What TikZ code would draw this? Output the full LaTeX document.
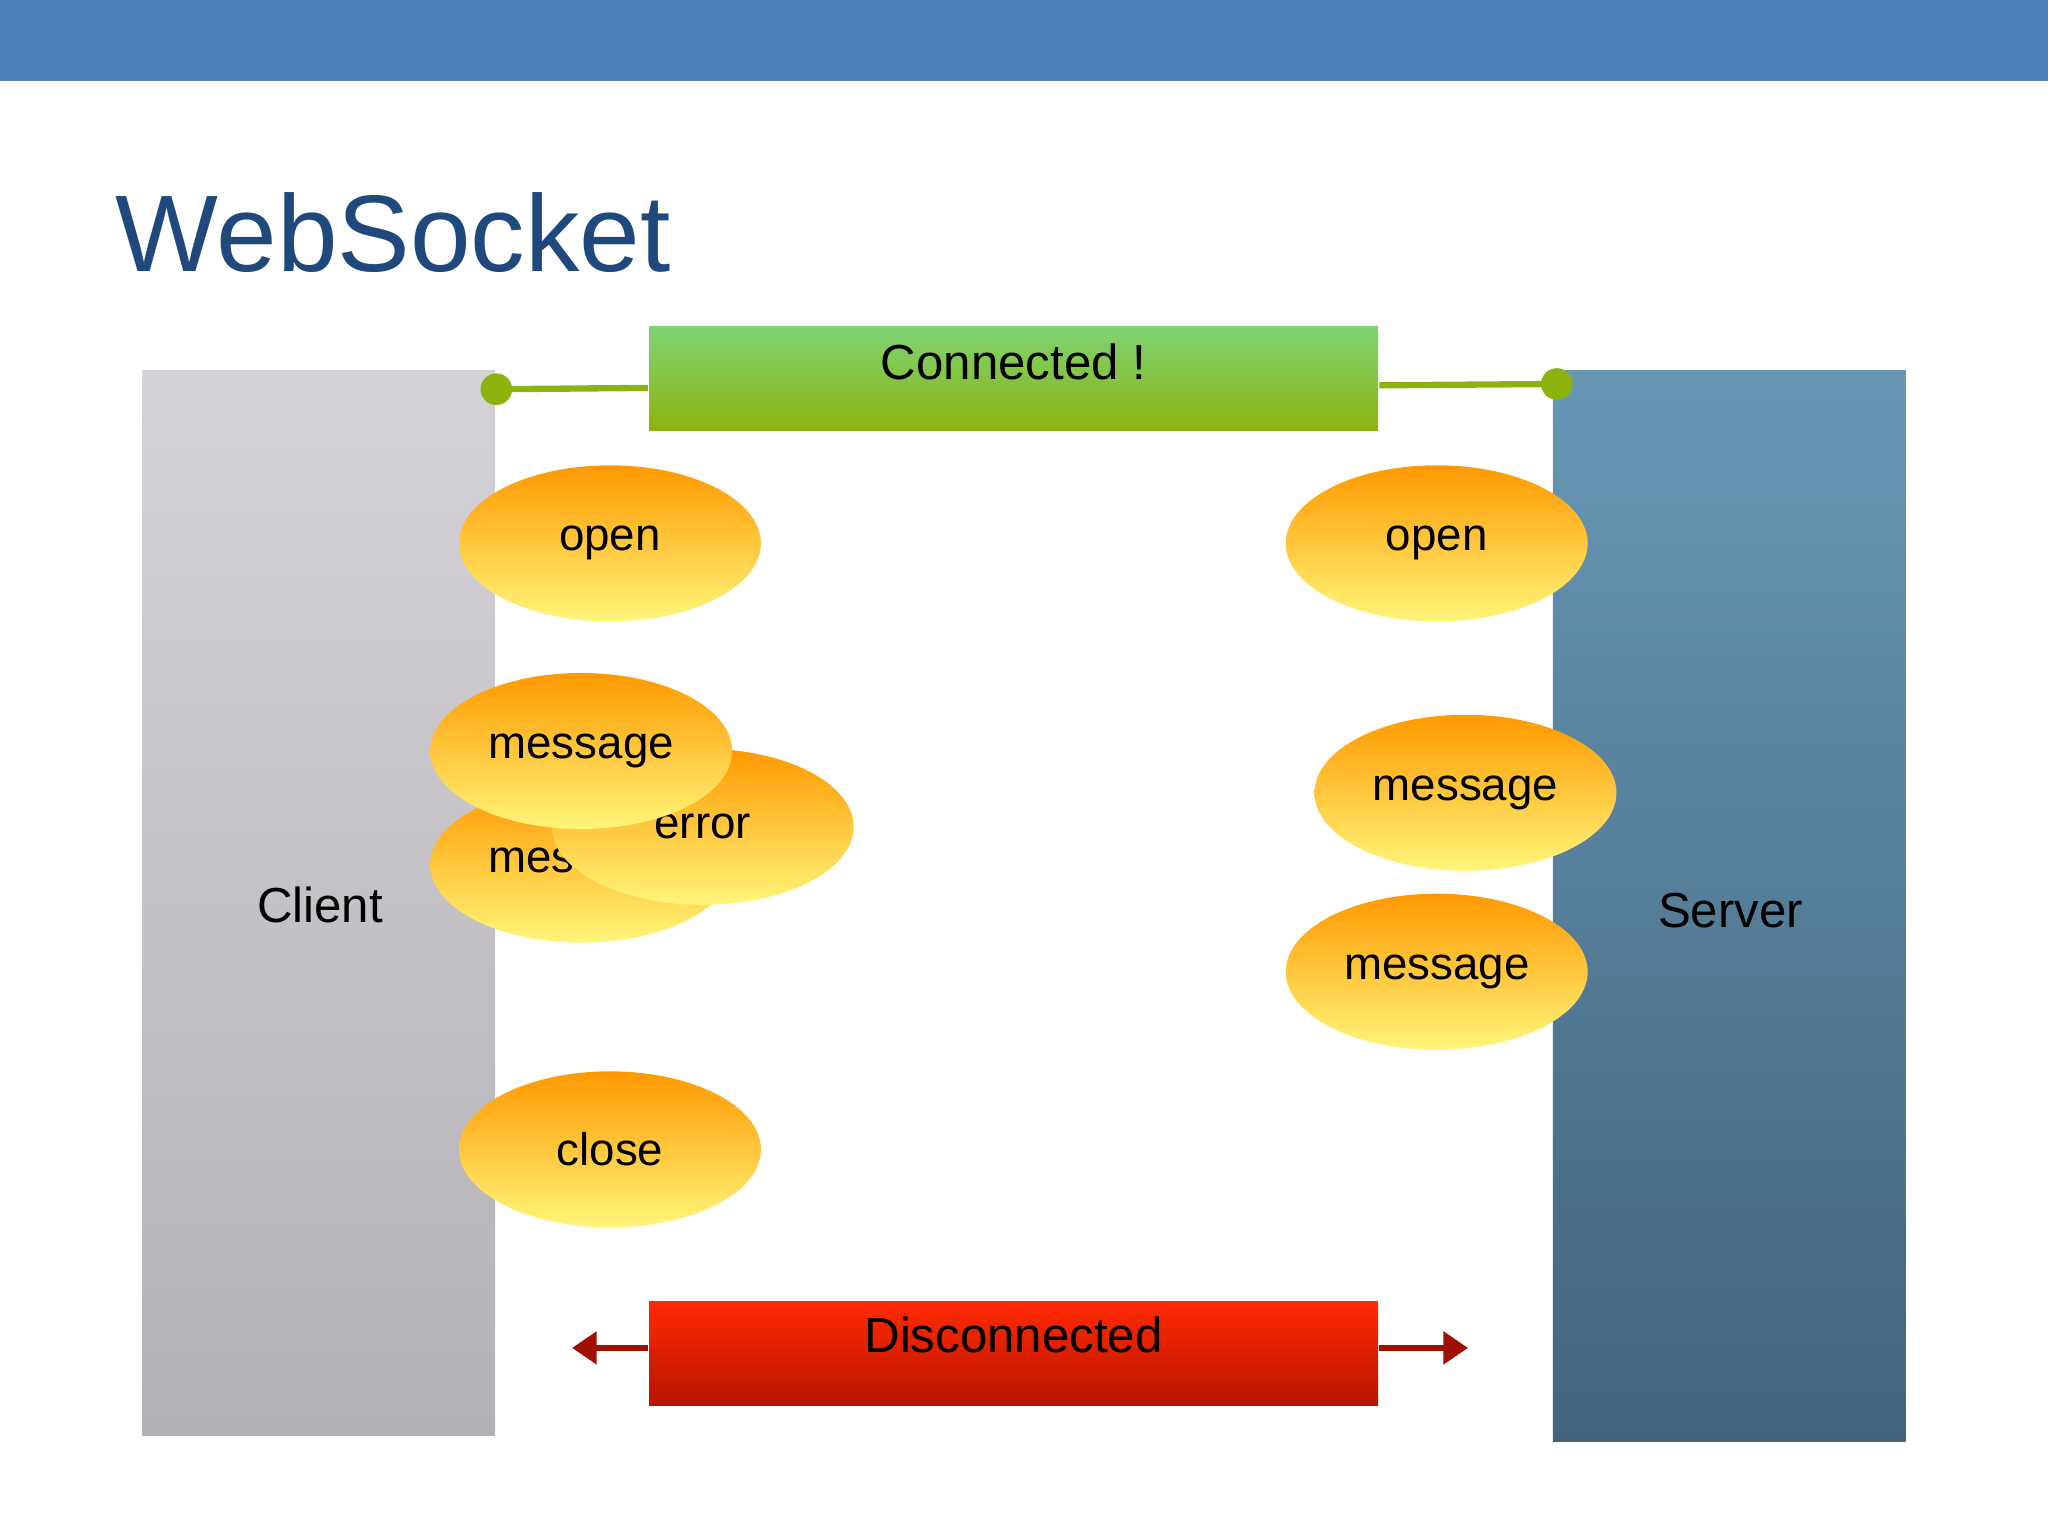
\documentclass[tikz,border=0pt]{standalone}
\usepackage{fontspec}
\setmainfont{Liberation Sans}
\usetikzlibrary{shapes.geometric,arrows.meta}
\definecolor{barblue}{HTML}{4F81BD}
\definecolor{titleblue}{HTML}{1F497D}
\definecolor{lgreen}{HTML}{8DB20E}
\definecolor{dred}{HTML}{A01000}
\tikzset{
  ev/.style={ellipse, minimum width=85.9pt, minimum height=44.4pt, top color={rgb,255:red,255;green,153;blue,0}, bottom color={rgb,255:red,255;green,245;blue,122}, font=\fontsize{13}{16}\selectfont, inner sep=0pt},
  lbl/.style={font=\fontsize{14}{17}\selectfont},
  bar/.style={minimum width=207.4pt, minimum height=29.6pt, inner sep=0pt},
  gl/.style={draw=lgreen, line width=1.8pt},
  dot/.style={circle, fill=lgreen, minimum size=9pt, inner sep=0pt},
  rl/.style={draw=dred, line width=1.8pt, -{Triangle[length=7pt,width=9pt]}}
}
\begin{document}
\begin{tikzpicture}[x=0.013061cm,y=-0.013061cm]
\useasboundingbox (0,0) rectangle (1568,1176);
\fill[barblue] (0,0) rectangle (1568,62);
\node[anchor=base west, text=titleblue, font=\fontsize{31}{34}\selectfont, inner sep=0pt] (title) at (88,208) {WebSocket};
\shade[top color={rgb,255:red,212;green,210;blue,214}, bottom color={rgb,255:red,179;green,177;blue,181}] (109,284) rectangle (379,1099);
\node[lbl] (client) at (245,693) {Client};
\shade[top color={rgb,255:red,103;green,151;blue,181}, bottom color={rgb,255:red,67;green,100;blue,125}] (1189,284) rectangle (1459,1104);
\node[lbl] (server) at (1325,697) {Server};
% connected
\node[bar, top color={rgb,255:red,126;green,212;blue,116}, bottom color={rgb,255:red,141;green,178;blue,14}] (conn) at (776,290) {};
\node[lbl] (conntxt) at (776,277) {Connected !};
\coordinate (cl) at (380,298);
\coordinate (cr) at (1192,294);
\draw[gl] (cl) -- (496,297);
\draw[gl] (1056,295) -- (cr);
\node[dot] (d1) at (cl) {};
\node[dot] (d2) at (cr) {};
% disconnected
\node[bar, top color={rgb,255:red,255;green,42;blue,0}, bottom color={rgb,255:red,184;green,20;blue,0}] (disc) at (776,1036) {};
\node[lbl] (disctxt) at (776,1022) {Disconnected};
\coordinate (al) at (438,1032);
\coordinate (ar) at (1124,1032);
\draw[rl] (496,1032) -- (al);
\draw[rl] (1056,1032) -- (ar);
% events
\node[ev] (o1) at (467,416) {open};
\node[ev] (o2) at (1100,416) {open};
\node[ev] (m0) at (445,662) {message};
\node[ev] (err) at (538,633) {error};
\node[ev] (m1) at (445,575) {message};
\node[ev] (m2) at (1122,607) {message};
\node[ev] (m3) at (1100,744) {message};
\node[ev] (cls) at (467,880) {close};
\end{tikzpicture}
\end{document}
